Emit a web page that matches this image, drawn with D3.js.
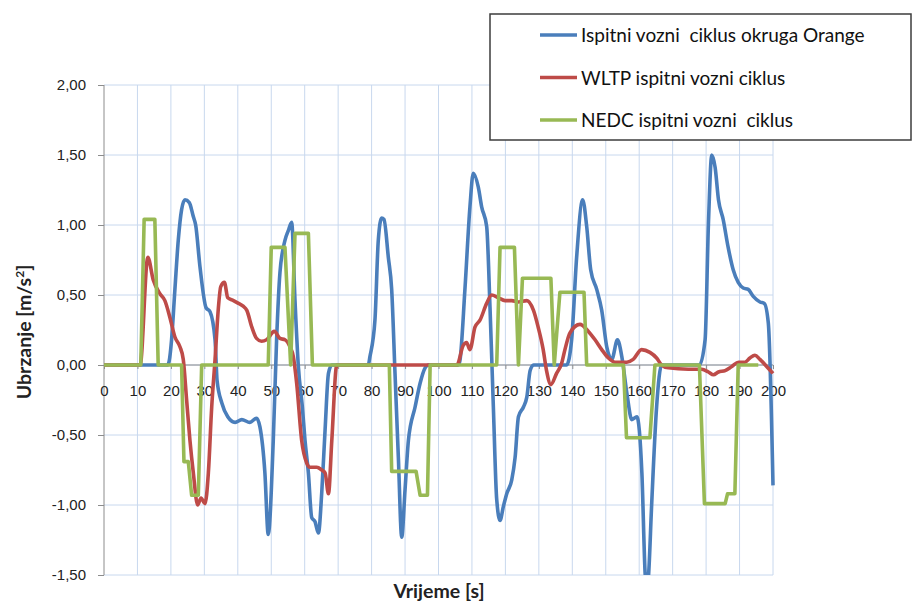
<!DOCTYPE html>
<html>
<head>
<meta charset="utf-8">
<script src="https://cdn.jsdelivr.net/npm/d3@7"></script>
<style>
  body { margin: 0; background: #fff; }
  svg { font-family: Lato, "Liberation Sans", sans-serif; }
</style>
</head>
<body>
<div class="chart"></div>
<script>
// [time s, acceleration m/s2]
const orange = [[0,0],[19,0],[19.5,0.03],[20.2,0.18],[21.2,0.54],[22.2,0.89],[23.2,1.11],[24.2,1.18],[25.5,1.16],[26.7,1.06],[27.4,1.0],[28.7,0.70],[30.5,0.41],[31.7,0.38],[33.2,0.18],[33.8,-0.11],[35.2,-0.27],[37,-0.37],[39.2,-0.41],[41.2,-0.39],[43.6,-0.41],[45.6,-0.38],[46.6,-0.44],[48.1,-0.77],[49.1,-1.21],[50.6,-0.54],[51.6,0.18],[52.6,0.66],[54.1,0.89],[55.1,0.96],[56.1,1.02],[57.1,0.46],[58.1,-0.01],[59.3,-0.30],[60.1,-0.54],[61.1,-0.77],[62.1,-1.09],[63.1,-1.12],[64.1,-1.20],[65.1,-0.91],[66.1,-0.46],[67.1,-0.06],[68.1,0],[79,0],[79.5,0.06],[81,0.32],[82,0.89],[83,1.05],[83.7,1.04],[85,0.77],[86,0.54],[87,-0.06],[88,-0.66],[89,-1.23],[90,-0.89],[91,-0.54],[93,-0.30],[94.5,-0.13],[96,-0.02],[97,0],[106,0],[106.4,0.03],[107.9,0.54],[109.4,1.13],[110.4,1.37],[111.9,1.27],[112.9,1.13],[114.4,0.99],[115.4,0.41],[116.4,-0.30],[117.4,-0.96],[118.4,-1.11],[119.4,-1.01],[120.4,-0.92],[121.9,-0.82],[122.9,-0.66],[123.9,-0.37],[125.4,-0.30],[126.4,-0.23],[127.4,-0.04],[128.4,0],[138.3,0],[139.8,0.18],[141.3,0.77],[143.1,1.18],[144.3,0.99],[145.5,0.68],[147.3,0.54],[148.8,0.39],[150.3,0.13],[151.8,0.04],[153.5,0.18],[154.8,0.06],[156.3,-0.2],[157.8,-0.39],[159.3,-0.37],[160.8,-0.77],[161.8,-1.5],[162.3,-1.6],[162.8,-1.5],[163.7,-1.01],[165.2,-0.30],[166.7,0],[178,0],[179.7,0.18],[180.7,1.01],[181.7,1.50],[182.7,1.41],[183.7,1.18],[185.1,1.04],[186.6,0.84],[188.1,0.68],[189.6,0.59],[191.1,0.55],[192.6,0.54],[194.1,0.49],[196.1,0.45],[197.4,0.44],[198.6,0.30],[200,-0.86]];

const wltp = [[0,0],[10.8,0],[13.1,0.77],[14.7,0.61],[16.7,0.51],[18.2,0.46],[19.7,0.34],[21.2,0.20],[22.7,0.13],[23.7,0.04],[24.7,-0.25],[25.7,-0.54],[26.7,-0.77],[28,-1.0],[29,-0.95],[30.2,-0.99],[31.2,-0.77],[32.2,-0.30],[33.2,0.04],[34.2,0.41],[34.9,0.56],[36,0.59],[37,0.48],[38.7,0.46],[40.2,0.44],[41.6,0.42],[42.7,0.39],[44.2,0.27],[45.6,0.19],[47.1,0.17],[48.6,0.18],[50.9,0.24],[52.6,0.19],[54.1,0.18],[55.6,0.13],[56.6,0.06],[57.6,-0.13],[59.1,-0.54],[60.6,-0.70],[61.6,-0.73],[63.6,-0.73],[65.1,-0.75],[66.1,-0.77],[67.1,-0.92],[68.1,-0.54],[69.6,0],[105.5,0],[107.4,0.14],[108.4,0.16],[109.4,0.11],[110.9,0.27],[112.4,0.32],[114.4,0.44],[115.9,0.50],[117.9,0.48],[119.9,0.46],[121.9,0.46],[123.9,0.45],[126.4,0.46],[128.4,0.39],[129.8,0.27],[131.3,0.11],[132.3,-0.04],[133.6,-0.14],[135.3,-0.06],[136.8,0.01],[137.8,0.11],[139.3,0.23],[142.3,0.29],[144.8,0.24],[146.8,0.18],[148.8,0.11],[150.8,0.05],[152.8,0.02],[156.3,0.02],[158.2,0.04],[160.7,0.11],[163.2,0.09],[165.2,0.05],[166.7,0],[168.7,-0.02],[174.7,-0.03],[178.7,-0.03],[180.7,-0.05],[182.2,-0.07],[183.7,-0.05],[185.7,-0.04],[187.7,-0.01],[189.7,0.02],[191.6,0.02],[193.1,0.05],[194.6,0.07],[196.1,0.04],[198.1,-0.01],[200,-0.06]];

const nedc = [[0,0],[11,0],[12,1.04],[15.2,1.04],[16.2,0],[23.2,0],[23.9,-0.69],[25.2,-0.69],[26.2,-0.93],[28.2,-0.93],[29.2,0],[49.1,0],[50,0.84],[54.1,0.84],[55.8,0],[57.1,0.94],[61.1,0.94],[62.3,0],[85.3,0],[86,-0.76],[93.3,-0.76],[94.5,-0.93],[96.7,-0.93],[97.5,0],[117.4,0],[118.4,0.84],[122.7,0.84],[123.9,0],[125.1,0.62],[133.6,0.62],[134.6,0],[136.3,0.52],[143.5,0.52],[144.3,0],[155.3,0],[156.2,-0.52],[163.2,-0.52],[164.7,0],[178,0],[179.5,-0.99],[185.7,-0.99],[186.4,-0.92],[188.6,-0.92],[189.6,0],[195.6,0]];

const seriesNames = ["Ispitni vozni  ciklus okruga Orange", "WLTP ispitni vozni ciklus", "NEDC ispitni vozni  ciklus"];
const seriesColors = ["#4a7ebb", "#be4b48", "#98b954"];
const xTicks = d3.range(0, 201, 10);
const yTicks = [-1.5, -1, -0.5, 0, 0.5, 1, 1.5, 2];

let width = 913, height = 602;
let x = d3.scaleLinear().domain([0, 200]).range([104, 773]);
let y = d3.scaleLinear().domain([-1.5, 2]).range([575, 85]);

let svg = d3.select(".chart").append("svg")
    .attr("width", width)
    .attr("height", height);

svg.append("defs").append("clipPath").attr("id", "plot")
  .append("rect")
    .attr("x", x(0)).attr("y", y(2) - 3)
    .attr("width", x(200) - x(0) + 3).attr("height", y(-1.5) - y(2) + 3);

// grid
svg.append("g").selectAll("line").data(xTicks.slice(1)).enter()
  .append("line")
    .attr("x1", d => x(d)).attr("x2", d => x(d))
    .attr("y1", y(2)).attr("y2", y(-1.5))
    .attr("stroke", "#c8d8ee").attr("stroke-width", 1);
svg.append("g").selectAll("line").data(yTicks).enter()
  .append("line")
    .attr("x1", x(0)).attr("x2", x(200))
    .attr("y1", d => y(d)).attr("y2", d => y(d))
    .attr("stroke", "#c8d8ee").attr("stroke-width", 1);

// axes
let fmt = d => d3.format(".2f")(d).replace(".", ",").replace("\u2212", "-");
let leftAxis = d3.axisLeft(y).tickValues(yTicks).tickFormat(fmt).tickSize(6).tickPadding(12);
let bottomAxis = d3.axisBottom(x).tickValues(xTicks).tickSize(4).tickPadding(16);

svg.append("g")
    .attr("transform", "translate(" + x(0) + ",0)")
    .call(leftAxis)
    .call(g => g.select(".domain").attr("stroke", "#8c8c8c").attr("d", "M0," + y(2) + "V" + y(-1.5)))
    .call(g => g.selectAll(".tick line").attr("stroke", "#8c8c8c"))
    .call(g => g.selectAll("text").attr("font-size", 15).attr("fill", "#222"));

svg.append("g")
    .attr("transform", "translate(0," + y(0) + ")")
    .call(bottomAxis)
    .call(g => g.select(".domain").attr("stroke", "#8c8c8c").attr("d", "M" + x(0) + ",0H" + x(200)))
    .call(g => g.selectAll(".tick line").attr("stroke", "#8c8c8c"))
    .call(g => g.selectAll("text").attr("font-size", 15).attr("fill", "#222"));

// lines
let line = d3.line().x(d => x(d[0])).y(d => y(d[1]));
let smooth = d3.line().x(d => x(d[0])).y(d => y(d[1])).curve(d3.curveMonotoneX);
let lines = svg.append("g").attr("clip-path", "url(#plot)");
[[orange, smooth], [wltp, smooth], [nedc, line]].forEach(function (s, i) {
    lines.append("path")
        .datum(s[0])
        .attr("d", s[1])
        .attr("fill", "none")
        .attr("stroke", seriesColors[i])
        .attr("stroke-width", 3.6)
        .attr("stroke-linejoin", "round");
});

// axis titles
let ytitle = svg.append("text")
    .attr("transform", "translate(31,332) rotate(-90)")
    .attr("text-anchor", "middle")
    .attr("font-size", 19.5).attr("font-weight", "bold").attr("fill", "#222");
ytitle.append("tspan").text("Ubrzanje [m/s");
ytitle.append("tspan").attr("baseline-shift", "super").attr("font-size", 12).text("2");
ytitle.append("tspan").text("]");

svg.append("text")
    .attr("x", 439).attr("y", 598)
    .attr("text-anchor", "middle")
    .attr("font-size", 19.5).attr("font-weight", "bold").attr("fill", "#222")
    .text("Vrijeme [s]");

// legend
let legend = svg.append("g");
legend.append("rect")
    .attr("x", 490).attr("y", 14).attr("width", 421).attr("height", 126)
    .attr("fill", "#fff").attr("stroke", "#3c3c3c").attr("stroke-width", 1.5);
let item = legend.selectAll("g.item").data(seriesNames).enter()
  .append("g").attr("class", "item")
    .attr("transform", (d, i) => "translate(0," + (35 + i * 42.5) + ")");
item.append("line")
    .attr("x1", 540).attr("x2", 577)
    .attr("stroke", (d, i) => seriesColors[i]).attr("stroke-width", 3.6);
item.append("text")
    .attr("x", 581).attr("y", 7)
    .attr("font-size", 19).attr("fill", "#111")
    .style("white-space", "pre")
    .text(d => d);
</script>
</body>
</html>
